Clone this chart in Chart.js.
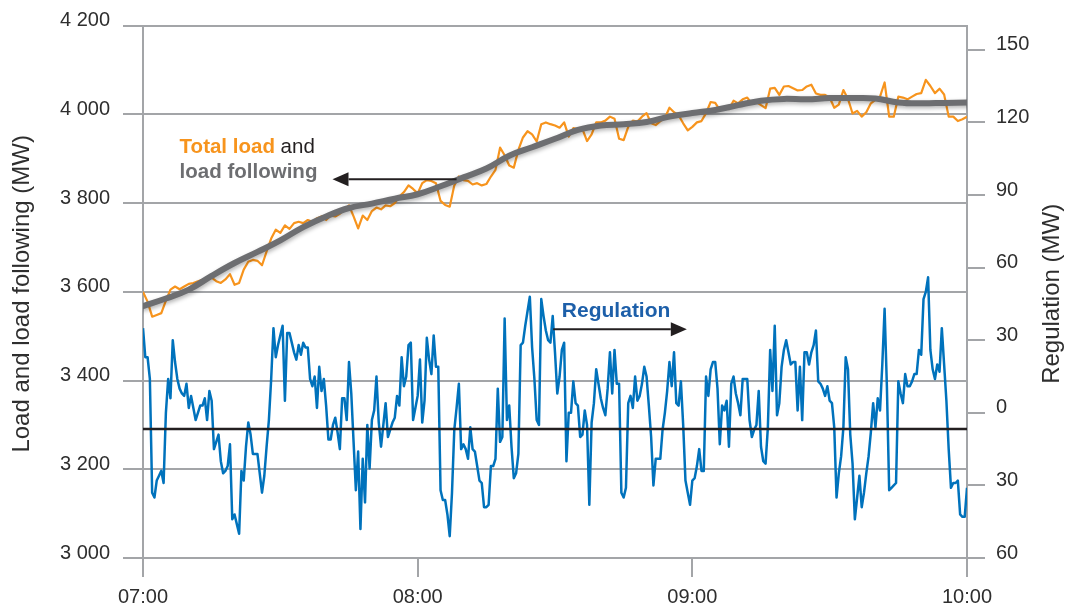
<!DOCTYPE html>
<html>
<head>
<meta charset="utf-8">
<script src="https://cdn.jsdelivr.net/npm/chart.js@4.4.1/dist/chart.umd.min.js"></script>
<style>
html,body{margin:0;padding:0;background:#ffffff;}
#wrap{width:1065px;height:607px;}
</style>
</head>
<body>
<div id="wrap"><canvas id="c" width="1065" height="607"></canvas></div>
<script>
// ---------------- DATA ----------------
const timeLabels = ['07:00', '08:00', '09:00', '10:00'];   // hour ticks, every 60 min
const leftAxisTitle = 'Load and load following (MW)';
const rightAxisTitle = 'Regulation (MW)';

// Regulation (MW), sampled every 30 s from 07:00 to 10:00
const regStepMin = 0.5;
const regulation = [
  35, 23, 23, 14, -33, -35, -28, -26, -24, -29, 0, 14, 6, 30, 21, 14, 10, 8, 7, 12,
  2, 7, 2, -3, 0, 3, 3, 6, -3, 9, 5, -15, -12, -9, -20, -25, -24, -22, -13, -44,
  -42, -46, -50, -24, -28, -14, -4, -9, -17, -17, -17, -25, -33, -26, -14, -3, 14, 35, 23, 28,
  32, 36, 5, 33, 33, 29, 25, 22, 28, 24, 29, 27, 27, 14, 11, 15, 2, 19, 9, 14,
  3, -11, -11, -5, -2, -8, -15, 6, 6, -3, 21, 8, -12, -32, -16, -48, -19, -37, -5, -23,
  -3, 1, 15, -4, -14, -5, 4, -10, -7, -4, -2, 7, 3, 23, 11, 15, 28, 29, -3, 2,
  7, 22, -4, 5, 31, 22, 16, 32, 19, 19, -32, -36, -36, -42, -51, -33, -7, 2, 12, -15,
  -13, -15, -19, -6, -15, -16, -22, -28, -29, -39, -39, -38, -22, -22, -19, 10, -12, -10, 39, -3,
  3, -14, -27, -25, -17, 28, 29, 36, 42, 48, 27, 14, -3, -5, 47, 40, 34, 30, 29, 40,
  25, 8, 15, 26, 29, -20, 0, 0, 13, 4, 3, -10, -9, 1, -5, -38, -4, 4, 18, 12,
  6, 2, -1, 10, 25, 8, 26, 12, 12, -33, -35, -31, 4, 7, 2, 15, 5, 7, 12, 19,
  15, 3, -10, -30, -19, -19, -19, -7, 0, 9, 21, 11, 25, 4, 3, 13, -5, -28, -33, -38,
  -28, -27, -22, -15, -24, -24, 15, 7, 18, 21, 21, 10, -13, 3, 1, 5, -14, 12, 15, 8,
  4, -1, 14, 14, 14, -3, -10, -7, -5, 9, -14, -20, -21, -6, 26, 9, 36, -1, 4, 19,
  26, 30, 25, 20, 21, 21, 1, 19, -3, 25, 25, 20, 25, 28, 34, 13, 12, 10, 7, 11,
  5, 4, -6, -35, -25, -18, -6, 23, 18, -9, -21, -44, -35, -26, -39, -33, -25, -18, -8, 4,
  -6, 6, 1, 20, 43, 11, -32, -31, -30, -29, 13, 8, 4, 16, 11, 11, 13, 16, 16, 26,
  24, 47, 50, 56, 26, 18, 14, 20, 17, 35, 20, 5, -15, -31, -29, -29, -28, -42, -43, -43,
  -31
];

// Total load (MW), sampled every minute
const loadStepMin = 1;
const totalLoad = [
  3600, 3578, 3544, 3548, 3552, 3580, 3605, 3612, 3606, 3612,
  3618, 3620, 3624, 3627, 3630, 3632, 3624, 3620, 3628, 3640,
  3616, 3620, 3650, 3668, 3672, 3670, 3660, 3691, 3720, 3740,
  3733, 3750, 3742, 3755, 3758, 3755, 3762, 3758, 3766, 3770,
  3762, 3772, 3770, 3776, 3785, 3795, 3770, 3743, 3772, 3762,
  3782, 3790, 3786, 3795, 3793, 3800, 3815, 3825, 3840, 3832,
  3822, 3845, 3852, 3850, 3845, 3805, 3796, 3792, 3840, 3860,
  3852, 3850, 3842, 3845, 3840, 3843, 3860, 3875, 3925, 3908,
  3885, 3880, 3920, 3948, 3962, 3955, 3939, 3978, 3982, 3978,
  3975, 3970, 3982, 3950, 3969, 3967, 3967, 3940, 3955, 3982,
  3982, 3986, 3995, 3990, 3945, 3942, 3972, 3986, 3984, 3995,
  4003, 3980, 3976, 3985, 3992, 4015, 4005, 3998, 3980, 3964,
  3972, 3982, 3985, 4003, 4028, 4026, 4010, 4016, 4012, 4031,
  4025, 4034, 4038, 4024, 4028, 4021, 4014, 4058, 4060, 4044,
  4063, 4064, 4059, 4054, 4055, 4063, 4067, 4047, 4044, 4044,
  4038, 4015, 4022, 4055, 4035, 4002, 4008, 3995, 4005, 4025,
  4033, 4040, 4072, 3995, 3995, 4040, 4038, 4034, 4040, 4046,
  4048, 4078, 4064, 4048, 4058, 4045, 3995, 3995, 3985, 3989,
  3995
];

// Load following (MW), sampled every 5 minutes
const followStepMin = 5;
const loadFollowing = [
  3568, 3585, 3605, 3636, 3665, 3690, 3716, 3746, 3770, 3789,
  3799, 3810, 3820, 3838, 3858, 3878, 3907, 3926, 3945, 3965,
  3975, 3978, 3983, 3995, 4003, 4010, 4021, 4031, 4035, 4034,
  4037, 4037, 4036, 4027, 4025, 4026, 4027
];

// Black reference line on the regulation axis (MW)
const regulationBaseline = -6.7;

// ---------------- STYLE ----------------
const GRID = '#a3a5a8';
const TXT = '#2e2e2e';
const FONT = '"Liberation Sans", Arial, Helvetica, sans-serif';
const ORANGE = '#f7941d';
const GREY = '#6d6e71';
const BLUE = '#0072bc';
const BLUE_TXT = '#1d5fa9';
const BLACK = '#231f20';

Chart.defaults.font.family = FONT;

const toXY = (arr, step) => arr.map((v, i) => ({ x: i * step, y: v }));
const spaceThousands = v => String(v).replace(/\B(?=(\d{3})+(?!\d))/g, ' ');

function arrow(ctx, xTail, xTip, y, headLen, headHalf) {
  const dir = Math.sign(xTip - xTail);
  ctx.beginPath();
  ctx.moveTo(xTail, y);
  ctx.lineTo(xTip - dir * headLen, y);
  ctx.stroke();
  ctx.beginPath();
  ctx.moveTo(xTip, y);
  ctx.lineTo(xTip - dir * headLen, y - headHalf);
  ctx.lineTo(xTip - dir * headLen, y + headHalf);
  ctx.closePath();
  ctx.fill();
}

const decor = {
  id: 'decor',
  beforeDatasetDraw(chart, args) {
    if (args.index === 0) {
      const c = chart.ctx;
      c.save();
      c.shadowColor = 'rgba(0,0,0,0.30)';
      c.shadowBlur = 4;
      c.shadowOffsetX = 1;
      c.shadowOffsetY = 2;
    }
  },
  afterDatasetDraw(chart, args) {
    if (args.index === 0) chart.ctx.restore();
  },
  afterDraw(chart) {
    const ctx = chart.ctx;
    const xs = chart.scales.x, yl = chart.scales.y, yr = chart.scales.yR;
    const area = chart.chartArea;
    const midY = (area.top + area.bottom) / 2 + 2;

    // axis titles (both read bottom-to-top)
    ctx.save();
    ctx.fillStyle = TXT;
    ctx.font = '24px ' + FONT;
    ctx.textAlign = 'center';
    ctx.textBaseline = 'middle';
    ctx.translate(22.5, midY);
    ctx.rotate(-Math.PI / 2);
    ctx.fillText(leftAxisTitle, 0, 0);
    ctx.restore();

    ctx.save();
    ctx.fillStyle = TXT;
    ctx.font = '24px ' + FONT;
    ctx.textAlign = 'center';
    ctx.textBaseline = 'middle';
    ctx.translate(1052, midY);
    ctx.rotate(-Math.PI / 2);
    ctx.fillText(rightAxisTitle, 0, 0);
    ctx.restore();

    // "Total load and / load following" annotation
    ctx.save();
    ctx.textBaseline = 'alphabetic';
    ctx.textAlign = 'left';
    const tx = xs.getPixelForValue(8);
    const l1 = yl.getPixelForValue(3913);
    const l2 = yl.getPixelForValue(3857);
    ctx.font = 'bold 20.5px ' + FONT;
    ctx.fillStyle = ORANGE;
    ctx.fillText('Total load', tx, l1);
    const w = ctx.measureText('Total load').width;
    ctx.font = '20.5px ' + FONT;
    ctx.fillStyle = BLACK;
    ctx.fillText(' and', tx + w, l1);
    ctx.font = 'bold 20.5px ' + FONT;
    ctx.fillStyle = GREY;
    ctx.fillText('load following', tx, l2);

    ctx.strokeStyle = BLACK;
    ctx.fillStyle = BLACK;
    ctx.lineWidth = 2;
    arrow(ctx, xs.getPixelForValue(68.5), xs.getPixelForValue(41.4), yl.getPixelForValue(3854), 16, 7);

    // "Regulation" annotation
    ctx.font = 'bold 21px ' + FONT;
    ctx.fillStyle = BLUE_TXT;
    ctx.fillText('Regulation', xs.getPixelForValue(91.5), yr.getPixelForValue(39.8));
    ctx.strokeStyle = BLACK;
    ctx.fillStyle = BLACK;
    arrow(ctx, xs.getPixelForValue(89.6), xs.getPixelForValue(118.8), yr.getPixelForValue(34.5), 16, 7);
    ctx.restore();
  }
};

new Chart(document.getElementById('c').getContext('2d'), {
  type: 'line',
  data: {
    datasets: [
      {
        label: 'Load following',
        data: toXY(loadFollowing, followStepMin),
        yAxisID: 'y',
        borderColor: GREY,
        borderWidth: 6,
        tension: 0.4,
        pointRadius: 0,
        borderCapStyle: 'round',
        borderJoinStyle: 'round'
      },
      {
        label: 'Total load',
        data: toXY(totalLoad, loadStepMin),
        yAxisID: 'y',
        borderColor: ORANGE,
        borderWidth: 2.2,
        tension: 0,
        pointRadius: 0,
        borderJoinStyle: 'round'
      },
      {
        label: 'Baseline',
        data: [{ x: 0, y: regulationBaseline }, { x: 180, y: regulationBaseline }],
        yAxisID: 'yR',
        borderColor: BLACK,
        borderWidth: 2.5,
        pointRadius: 0
      },
      {
        label: 'Regulation',
        data: toXY(regulation, regStepMin),
        yAxisID: 'yR',
        borderColor: BLUE,
        borderWidth: 2.5,
        tension: 0,
        pointRadius: 0,
        borderJoinStyle: 'round'
      }
    ]
  },
  options: {
    responsive: false,
    animation: false,
    events: [],
    layout: { padding: { top: 25.7, left: 0, right: 0, bottom: 0 } },
    plugins: { legend: { display: false }, tooltip: { enabled: false } },
    scales: {
      x: {
        type: 'linear',
        min: 0,
        max: 180,
        afterFit(s) { s.height = 49; },
        grid: { drawOnChartArea: false, tickLength: 19, color: GRID, lineWidth: 2 },
        border: { display: false },
        ticks: {
          stepSize: 60,
          color: TXT,
          font: { size: 20 },
          padding: 8,
          maxRotation: 0,
          autoSkip: false,
          callback: v => timeLabels[Math.round(v / 60)]
        }
      },
      y: {
        position: 'left',
        min: 3000,
        max: 4200,
        afterFit(s) { s.width = 143; },
        grid: { color: GRID, lineWidth: 2, tickLength: 20 },
        border: { display: true, color: GRID, width: 2 },
        ticks: {
          stepSize: 200,
          color: TXT,
          font: { size: 20 },
          padding: 13,
          labelOffset: -5,
          callback: v => spaceThousands(v)
        }
      },
      yR: {
        position: 'right',
        min: -60,
        max: 160,
        afterFit(s) { s.width = 98; },
        grid: { drawOnChartArea: false, color: GRID, lineWidth: 2, tickLength: 18 },
        border: { display: true, color: GRID, width: 2 },
        ticks: {
          stepSize: 30,
          includeBounds: false,
          color: TXT,
          font: { size: 20 },
          padding: 11,
          labelOffset: -5,
          callback: v => String(Math.abs(v))
        }
      }
    }
  },
  plugins: [decor]
});
</script>
</body>
</html>
